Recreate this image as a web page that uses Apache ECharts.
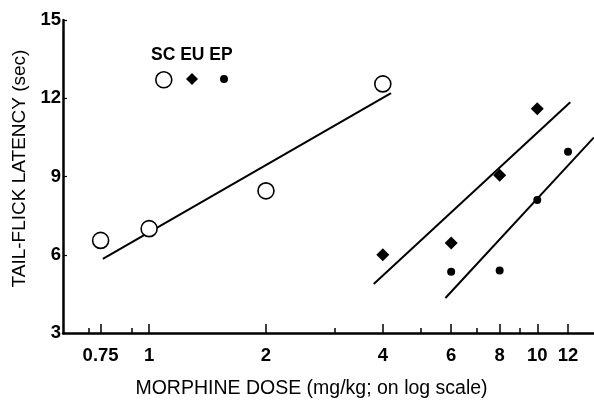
<!DOCTYPE html>
<html>
<head>
<meta charset="utf-8">
<script src="https://cdn.jsdelivr.net/npm/echarts@6/dist/echarts.min.js"></script>
<style>
  html, body { margin: 0; padding: 0; background: #fff; }
  #chart { width: 594px; height: 400px; }
</style>
</head>
<body>
<div id="chart"></div>
<script>
// ---- data ----
const seriesNames = ['SC', 'EU', 'EP'];
const scDose = [0.75, 1, 2, 4];
const scLatency = [6.55, 7.0, 8.45, 12.55];
const euDose = [4, 6, 8, 10];
const euLatency = [6.0, 6.45, 9.05, 11.6];
const epDose = [6, 8, 10, 12];
const epLatency = [5.35, 5.4, 8.1, 9.95];
// regression line end points
const scLineDose = [0.76, 4.2];
const scLineLatency = [5.84, 12.2];
const euLineDose = [3.79, 12.16];
const euLineLatency = [4.88, 11.85];
const epLineDose = [5.8, 14];
const epLineLatency = [4.34, 10.5];
// tick labels
const xMajorTicks = [0.75, 1, 2, 4, 6, 8, 10, 12];
const xMinorTicks = [0.7, 0.9, 3, 5, 7, 9];
const yTicks = [3, 6, 9, 12, 15];

const zip = (a, b) => a.map((v, i) => [v, b[i]]);
const FONT = '"Liberation Sans", Arial, sans-serif';

const chart = echarts.init(document.getElementById('chart'), null, { renderer: 'canvas' });

const lineStyle = { color: '#000', width: 2 };

const legendBase = {
  top: 71,
  itemGap: 0,
  formatter: () => '',
  textStyle: { fontSize: 1 },
  selectedMode: false,
  padding: 0
};

chart.setOption({
  animation: false,
  backgroundColor: '#fff',
  grid: { left: 63, right: 0, top: 20, bottom: 67, containLabel: false, outerBoundsMode: 'none' },
  legend: [
    Object.assign({}, legendBase, { left: 155, data: [{ name: seriesNames[0], icon: 'circle', itemStyle: { color: '#fff', borderColor: '#000', borderWidth: 1.6 } }], itemWidth: 16, itemHeight: 16 }),
    Object.assign({}, legendBase, { left: 186, top: 73, data: [{ name: seriesNames[1], icon: 'diamond' }], itemWidth: 12, itemHeight: 12 }),
    Object.assign({}, legendBase, { left: 220, top: 75, data: [{ name: seriesNames[2], icon: 'circle' }], itemWidth: 8, itemHeight: 8 })
  ],
  graphic: [
    {
      type: 'text', left: 151, top: 46,
      style: { text: seriesNames.join(' '), font: 'bold 17.5px ' + FONT, fill: '#000' }
    }
  ],
  xAxis: [
    {
      type: 'log', logBase: 10, min: 0.6, max: 14,
      name: 'MORPHINE DOSE (mg/kg; on log scale)',
      nameLocation: 'middle', nameGap: 46,
      nameTextStyle: { fontFamily: FONT, fontSize: 19.5, color: '#000', padding: [0, 34, 0, 0] },
      axisLine: { show: true, lineStyle: { color: '#000', width: 2.5 } },
      axisTick: { show: true, inside: true, length: 9, customValues: xMajorTicks, lineStyle: { color: '#000', width: 1.5 } },
      axisLabel: { show: true, customValues: xMajorTicks, margin: 13, fontFamily: FONT, fontSize: 18.5, fontWeight: 'bold', color: '#000',
        formatter: v => String(v) },
      splitLine: { show: false },
      minorTick: { show: false }
    },
    {
      type: 'log', logBase: 10, min: 0.6, max: 14, position: 'bottom',
      axisLine: { show: false },
      axisTick: { show: true, inside: true, length: 5, customValues: xMinorTicks, lineStyle: { color: '#000', width: 1.5 } },
      axisLabel: { show: false },
      splitLine: { show: false }
    }
  ],
  yAxis: {
    type: 'value', min: 3, max: 15, interval: 3,
    name: 'TAIL-FLICK LATENCY (sec)',
    nameLocation: 'middle', nameGap: 33,
    nameTextStyle: { fontFamily: FONT, fontSize: 19, color: '#000', padding: [0, 0, 0, 16] },
    axisLine: { show: true, lineStyle: { color: '#000', width: 2.5 } },
    axisTick: { show: true, inside: true, length: 4, lineStyle: { color: '#000', width: 1.2 } },
    axisLabel: { margin: 2, fontFamily: FONT, fontSize: 18.5, fontWeight: 'bold', color: '#000',
      customValues: yTicks },
    splitLine: { show: false }
  },
  series: [
    { name: 'SC fit', type: 'line', data: zip(scLineDose, scLineLatency), symbol: 'none', lineStyle, silent: true, z: 2 },
    { name: 'EU fit', type: 'line', data: zip(euLineDose, euLineLatency), symbol: 'none', lineStyle, silent: true, z: 2 },
    { name: 'EP fit', type: 'line', data: zip(epLineDose, epLineLatency), symbol: 'none', lineStyle, silent: true, z: 2, clip: true },
    { name: seriesNames[0], type: 'scatter', data: zip(scDose, scLatency), symbol: 'circle', symbolSize: 16,
      itemStyle: { color: '#fff', borderColor: '#000', borderWidth: 1.6, opacity: 1 }, z: 3 },
    { name: seriesNames[1], type: 'scatter', data: zip(euDose, euLatency), symbol: 'diamond', symbolSize: 13,
      itemStyle: { color: '#000', opacity: 1 }, z: 3 },
    { name: seriesNames[2], type: 'scatter', data: zip(epDose, epLatency), symbol: 'circle', symbolSize: 8,
      itemStyle: { color: '#000', opacity: 1 }, z: 3 }
  ]
});
</script>
</body>
</html>
